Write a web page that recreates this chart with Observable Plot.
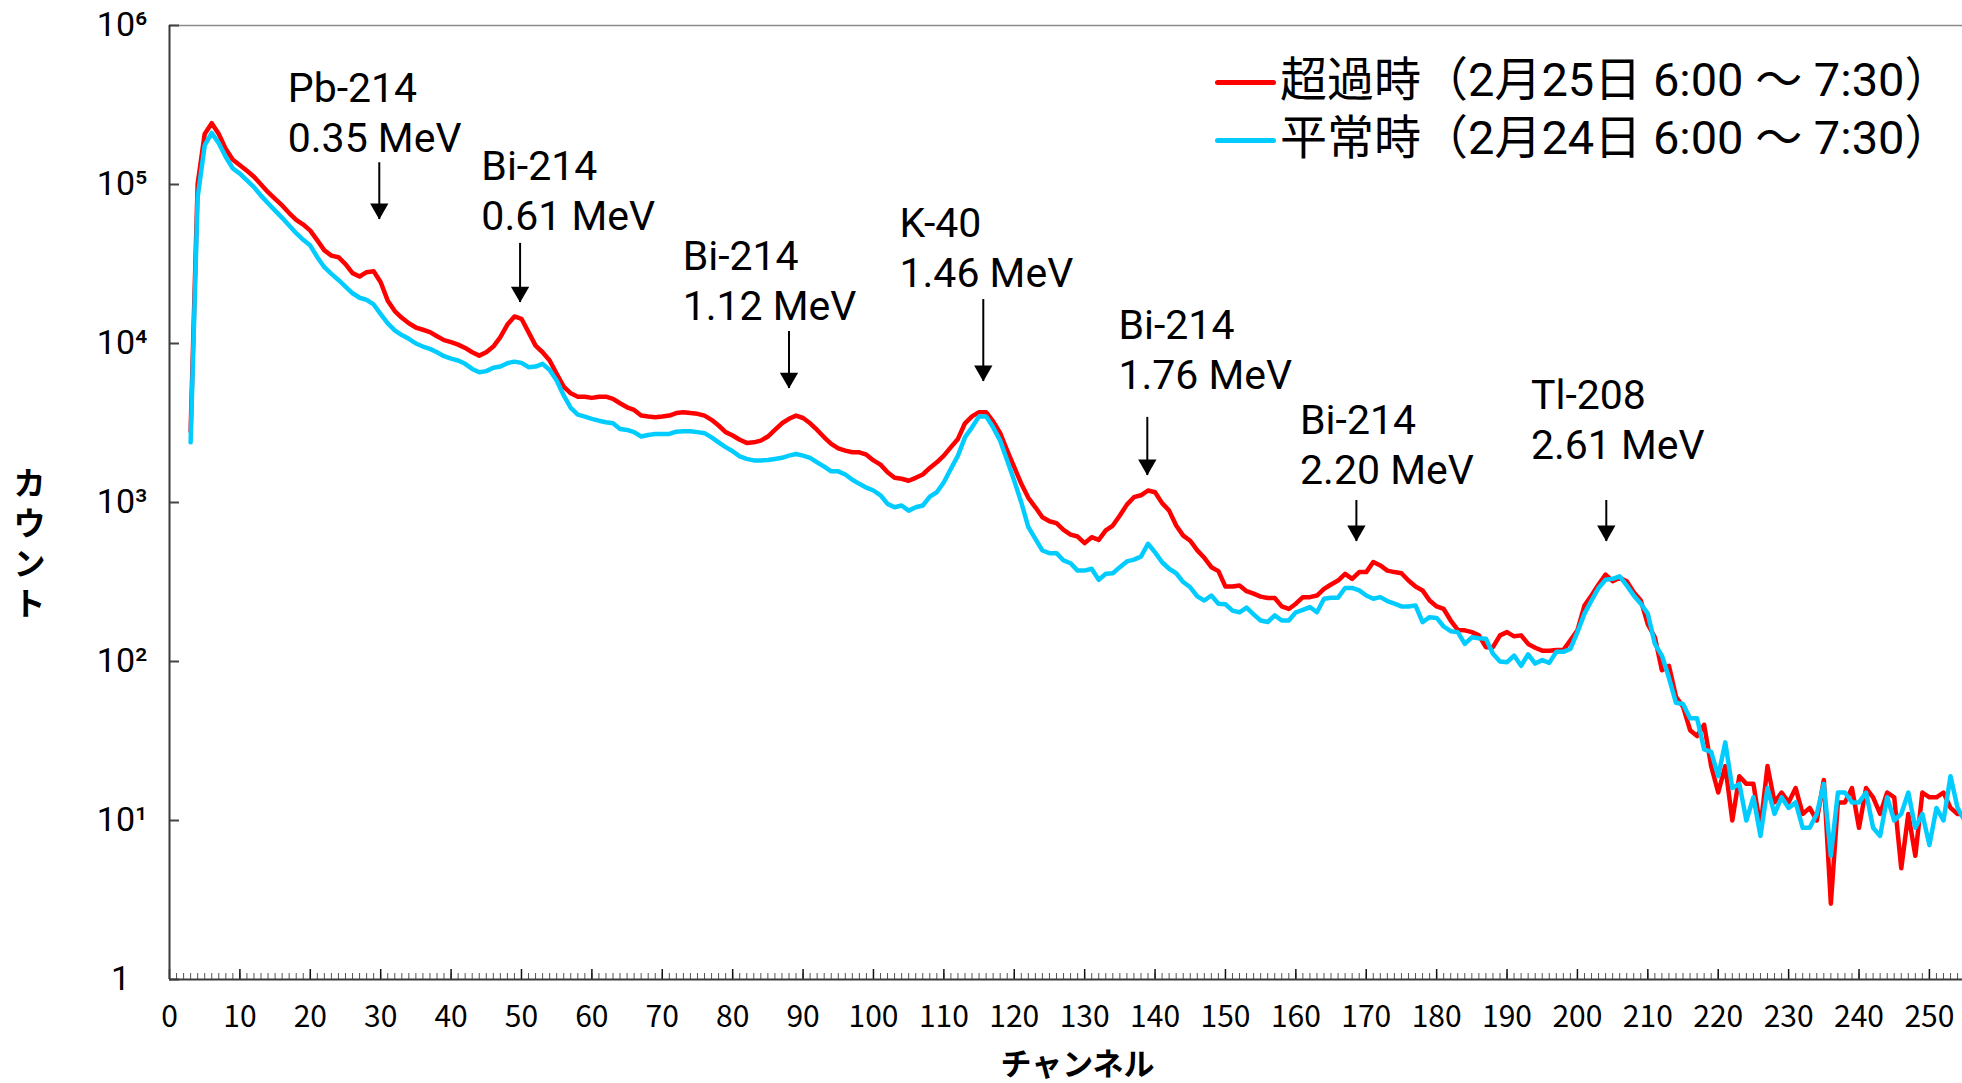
<!DOCTYPE html>
<html lang="ja">
<head>
<meta charset="utf-8">
<script src="https://cdn.jsdelivr.net/npm/d3@7"></script>
<script src="https://cdn.jsdelivr.net/npm/@observablehq/plot@0.6"></script>
<style>
  html, body { margin: 0; padding: 0; background: #fff; overflow: hidden; }
  #wrap { position: relative; width: 1962px; height: 1083px; }
  #legend { position: absolute; left: 1215px; top: 50px; font-family: Roboto, "Noto Sans CJK JP", sans-serif; font-size: 47px; color: #000; }
  #legend .row { display: flex; align-items: center; height: 58px; white-space: nowrap; }
  #legend .sw { display: inline-block; width: 61px; height: 5px; border-radius: 3px; margin-right: 4px; transform: translateY(3px); }
  #legend .lab { line-height: 1; }
</style>
</head>
<body>
<div id="wrap"></div>
<script>
// ---- data ----
const firstChannel = 3;
// 超過時 (2月25日 6:00〜7:30), channels 3..255
const excessCounts = [
  2800, 101000, 208000, 243000, 208000, 167000, 143000,
  132000, 122000, 112000, 100000, 89500, 81300, 73800, 66100, 60000, 56000,
  51300, 44500, 38500, 35700, 34900, 31600, 27700, 26400, 28100, 28500,
  24300, 18600, 16000, 14500, 13400, 12600, 12200, 11800, 11100, 10500,
  10200, 9840, 9380, 8810, 8390, 8810, 9570, 10960, 13150, 14800,
  14300, 11800, 9700, 8810, 7820, 6440, 5360, 4860, 4630, 4630,
  4550, 4630, 4630, 4490, 4210, 3970, 3820, 3520, 3470, 3440,
  3470, 3520, 3650, 3700, 3650, 3610, 3520, 3310, 3050, 2770,
  2640, 2480, 2370, 2390, 2450, 2600, 2860, 3150, 3360, 3520,
  3400, 3150, 2860, 2570, 2340, 2190, 2120, 2070, 2070, 2000,
  1840, 1730, 1550, 1430, 1410, 1370, 1430, 1500, 1650, 1790,
  1970, 2230, 2510, 3150, 3480, 3700, 3700, 3240, 2730, 2120,
  1670, 1310, 1070, 933, 807, 762, 741, 673, 628, 611,
  555, 605, 582, 667, 716, 828, 970, 1080, 1110, 1190,
  1160, 991, 889, 716, 619, 575, 500, 449, 392, 370,
  296, 296, 301, 277, 267, 256, 251, 251, 222, 214,
  231, 254, 254, 260, 286, 305, 323, 356, 331, 365,
  365, 422, 402, 373, 365, 359, 323, 296, 280, 242,
  222, 214, 181, 158, 157, 153, 146, 123, 123, 146,
  153, 144, 146, 129, 122, 117, 117, 118, 118, 136,
  157, 225, 260, 305, 352, 320, 336, 320, 273, 242,
  171, 142, 88, 94, 60, 52, 37, 34, 40, 22,
  15, 22, 10, 19, 17, 17, 9, 22, 13, 15,
  13, 16, 11, 12, 10, 18, 3, 13, 13, 16,
  9, 16, 14, 11, 15, 14, 5, 11, 6, 15,
  14, 14, 15, 12, 11, 11
];
// 平常時 (2月24日 6:00〜7:30), channels 3..255
const normalCounts = [
  2390, 83200, 176000, 211000, 182000, 149000, 126000,
  117000, 106000, 96200, 85100, 76200, 68500, 61700, 55200, 49400, 44900,
  41300, 34900, 30200, 27400, 25100, 22800, 20700, 19400, 18800, 17600,
  15300, 13400, 12100, 11300, 10700, 10000, 9570, 9250, 8810, 8320,
  8040, 7820, 7450, 6920, 6590, 6700, 7030, 7160, 7520, 7690,
  7550, 7100, 7160, 7450, 6820, 5850, 4710, 3940, 3570, 3470,
  3360, 3270, 3200, 3150, 2900, 2860, 2770, 2600, 2660, 2700,
  2700, 2700, 2790, 2810, 2810, 2770, 2730, 2570, 2390, 2230,
  2100, 1950, 1880, 1840, 1840, 1850, 1880, 1910, 1970, 2020,
  1970, 1910, 1790, 1680, 1570, 1570, 1500, 1390, 1310, 1240,
  1190, 1110, 980, 933, 957, 889, 933, 957, 1090, 1160,
  1340, 1630, 1970, 2570, 2970, 3480, 3480, 2970, 2450, 1840,
  1370, 1000, 700, 590, 499, 480, 480, 432, 415, 373,
  373, 383, 326, 356, 359, 392, 426, 437, 457, 550,
  486, 421, 383, 359, 316, 293, 257, 242, 260, 231,
  229, 209, 204, 218, 198, 181, 177, 195, 181, 181,
  204, 211, 220, 204, 248, 252, 252, 290, 290, 280,
  260, 248, 254, 240, 231, 222, 222, 225, 177, 190,
  188, 166, 155, 153, 129, 142, 140, 139, 112, 100,
  99, 109, 94, 111, 97, 102, 98, 115, 115, 120,
  153, 200, 242, 290, 327, 331, 343, 301, 260, 231,
  200, 129, 109, 79, 55, 54, 44, 44, 28, 27,
  19, 31, 16, 17, 10, 14, 8, 16, 11, 14,
  12, 13, 9, 9, 11, 17, 6, 15, 15, 13,
  13, 15, 9, 8, 14, 10, 11, 15, 9, 11,
  7, 12, 10, 19, 12, 10
];
const seriesNames = ["超過時（2月25日 6:00 ～ 7:30）", "平常時（2月24日 6:00 ～ 7:30）"];
const seriesColors = ["#ff0000", "#00ccff"];

// peak annotations
const peakNuclides = ["Pb-214", "Bi-214", "Bi-214", "K-40", "Bi-214", "Bi-214", "Tl-208"];
const peakEnergies = ["0.35 MeV", "0.61 MeV", "1.12 MeV", "1.46 MeV", "1.76 MeV", "2.20 MeV", "2.61 MeV"];
const peakChannels = [29.8, 49.8, 88, 115.6, 138.9, 168.6, 204.1];
const arrowTopCounts = [137000, 42600, 11900, 18900, 3430, 1030, 1030];
const arrowTipCounts = [60300, 18100, 5210, 5770, 1480, 569, 569];
const labelChannels = [16.8, 44.3, 72.9, 103.7, 134.8, 160.6, 193.4];
const labelBaseCounts = [159000, 51400, 13960, 22800, 5210, 1316, 1890];

// axes
const xMajorTicks = d3.range(0, 251, 10);
const xMinorTicks = d3.range(0, 256, 1);
const yTicks = [1, 1e1, 1e2, 1e3, 1e4, 1e5, 1e6];
const superscripts = ["\u2070", "\u00B9", "\u00B2", "\u00B3", "\u2074", "\u2075", "\u2076"];
const xTitle = "チャンネル";
const yTitle = "カウント";

// ---- build ----
const FONT = '"Noto Sans CJK JP", "Noto Sans", sans-serif';
const LATIN = 'Roboto, "Noto Sans CJK JP", sans-serif';
const W = 1962, H = 1083, ML = 169, MR = 0, MT = 25, MB = 104;
const frameW = W - ML - MR, frameH = H - MT - MB;

const toRows = (arr, name) => arr.map((v, i) => ({ch: firstChannel + i, v, name}));
const excessRows = toRows(excessCounts, seriesNames[0]);
const normalRows = toRows(normalCounts, seriesNames[1]);
const peaks = peakNuclides.map((n, i) => ({
  name: n, energy: peakEnergies[i], ch: peakChannels[i],
  top: arrowTopCounts[i], tip: arrowTipCounts[i],
  lx: labelChannels[i], base: labelBaseCounts[i]
}));

const fmtPow = d => d === 1 ? "1\u2002" : "10" + superscripts[Math.round(Math.log10(d))];

const chart = Plot.plot({
  width: W, height: H,
  marginLeft: ML, marginRight: MR, marginTop: MT, marginBottom: MB,
  style: {fontFamily: FONT, fontSize: "30px", color: "#000", background: "#fff"},
  x: {domain: [0, 254.7], label: null},
  y: {type: "log", domain: [1, 1e6], label: null},
  marks: [
    Plot.ruleY([1e6], {stroke: "#8a8a8a", strokeWidth: 1.5}),
    Plot.tickX(xMinorTicks, {x: d => d, stroke: "#555", strokeWidth: 1, insetTop: frameH - 6}),
    Plot.tickX(xMajorTicks, {x: d => d, stroke: "#111", strokeWidth: 1.5, insetTop: frameH - 10}),
    Plot.tickY(yTicks, {y: d => d, stroke: "#444", strokeWidth: 2, insetRight: frameW - 10}),
    Plot.axisX({ticks: xMajorTicks, tickSize: 0, tickPadding: 26, fontSize: 30, tickFormat: d => String(d)}),
    Plot.axisY({ticks: yTicks, tickSize: 0, tickPadding: 22, fontSize: 34, fontFamily: LATIN, tickFormat: fmtPow}),
    Plot.ruleX([0], {stroke: "#3a3a3a", strokeWidth: 2}),
    Plot.ruleY([1], {stroke: "#3a3a3a", strokeWidth: 2}),
    Plot.line(excessRows, {x: "ch", y: "v", stroke: seriesColors[0], strokeWidth: 4.5, strokeLinejoin: "round", strokeLinecap: "round", clip: true}),
    Plot.line(normalRows, {x: "ch", y: "v", stroke: seriesColors[1], strokeWidth: 4.5, strokeLinejoin: "round", strokeLinecap: "round", clip: true}),
    Plot.ruleX(peaks, {x: "ch", y1: "top", y2: "tip", stroke: "#000", strokeWidth: 2}),
    Plot.dot(peaks, {x: "ch", y: "tip", symbol: "triangle", rotate: 180, r: 6.8, fill: "#000", stroke: "none", dy: -10.6}),
    Plot.text(peaks, {x: "lx", y: "base", text: d => d.name + "\n" + d.energy, textAnchor: "start", lineAnchor: "bottom", lineHeight: 1.22, fontSize: 41, fontFamily: LATIN, fill: "#000"}),
    Plot.text([yTitle], {text: d => d.split("").join("\n"), frameAnchor: "left", dx: -140, dy: 40, lineAnchor: "middle", lineHeight: 1.25, fontSize: 32, fontFamily: LATIN, fontWeight: "bold", textAnchor: "middle", fill: "#000"}),
    Plot.text([xTitle], {text: d => d, frameAnchor: "bottom", dx: 11.5, dy: 95, fontSize: 31, fontFamily: LATIN, fontWeight: "bold", fill: "#000"})
  ]
});

const wrap = document.getElementById("wrap");
wrap.appendChild(chart);

// legend (top-right, overlaid on the plot area)
const legend = document.createElement("div");
legend.id = "legend";
seriesNames.forEach((name, i) => {
  const row = document.createElement("div");
  row.className = "row";
  const sw = document.createElement("span");
  sw.className = "sw";
  sw.style.background = seriesColors[i];
  const label = document.createElement("span");
  label.className = "lab";
  label.textContent = name;
  row.appendChild(sw);
  row.appendChild(label);
  legend.appendChild(row);
});
wrap.appendChild(legend);
</script>
</body>
</html>
